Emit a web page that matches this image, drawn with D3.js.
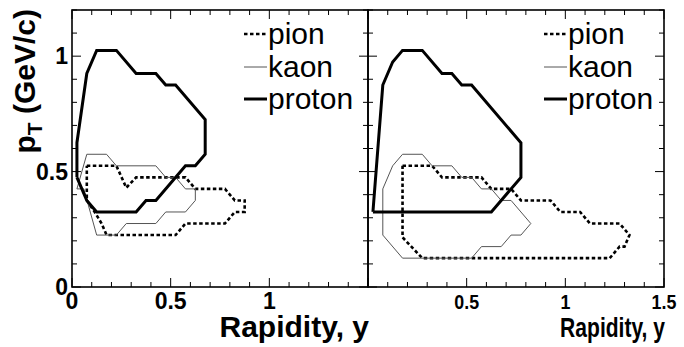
<!DOCTYPE html>
<html><head><meta charset="utf-8">
<script src="https://cdn.jsdelivr.net/npm/d3@7"></script>
<style>html,body{margin:0;padding:0;background:#fff;}svg{display:block;}</style>
</head><body>
<svg id="chart" width="684" height="347"></svg>
<script>
// ---- data: [rapidity y, pT (GeV/c)] contour vertices ----
const leftPion = [[0.075,0.525],[0.225,0.525],[0.275,0.43],[0.325,0.475],[0.575,0.475],[0.625,0.425],[0.775,0.425],[0.825,0.375],[0.875,0.375],[0.875,0.325],[0.825,0.325],[0.775,0.275],[0.575,0.275],[0.525,0.225],[0.175,0.225],[0.15,0.275],[0.115,0.325],[0.075,0.375],[0.075,0.525]];
const leftKaon = [[0.075,0.575],[0.175,0.575],[0.225,0.525],[0.425,0.525],[0.475,0.475],[0.525,0.475],[0.575,0.425],[0.625,0.425],[0.625,0.375],[0.575,0.325],[0.475,0.325],[0.425,0.275],[0.275,0.275],[0.225,0.225],[0.125,0.225],[0.06,0.425],[0.025,0.425],[0.075,0.575]];
const leftProton = [[0.025,0.475],[0.025,0.625],[0.075,0.925],[0.125,1.025],[0.225,1.025],[0.325,0.925],[0.425,0.925],[0.475,0.875],[0.525,0.875],[0.675,0.725],[0.675,0.575],[0.625,0.525],[0.575,0.525],[0.425,0.375],[0.375,0.375],[0.325,0.325],[0.125,0.325],[0.075,0.375],[0.025,0.475]];
const rightPion = [[0.175,0.525],[0.325,0.525],[0.375,0.475],[0.575,0.475],[0.625,0.425],[0.725,0.425],[0.775,0.375],[0.925,0.375],[0.975,0.325],[1.075,0.325],[1.125,0.275],[1.275,0.275],[1.325,0.225],[1.3,0.175],[1.275,0.175],[1.225,0.125],[0.275,0.125],[0.175,0.215],[0.175,0.525]];
const rightKaon = [[0.075,0.425],[0.125,0.525],[0.175,0.575],[0.275,0.575],[0.325,0.525],[0.425,0.525],[0.475,0.475],[0.525,0.475],[0.575,0.425],[0.625,0.425],[0.675,0.375],[0.725,0.375],[0.825,0.275],[0.775,0.225],[0.725,0.225],[0.675,0.175],[0.575,0.175],[0.525,0.125],[0.175,0.125],[0.075,0.225],[0.075,0.425]];
const rightProton = [[0.025,0.325],[0.075,0.875],[0.125,0.975],[0.175,1.025],[0.275,1.025],[0.375,0.925],[0.425,0.925],[0.475,0.875],[0.525,0.875],[0.775,0.625],[0.775,0.475],[0.625,0.325],[0.025,0.325]];
const legendLabels = ["pion","kaon","proton"];
const leftXTickLabels = ["0","0.5","1"];
const rightXTickLabels = ["0.5","1","1.5"];
const yTickLabels = ["0","0.5","1"];
const xDomain = [0,1.5];
const yDomain = [0,1.2];

// ---- layout / styles ----
const svg = d3.select("#chart");
const Y0 = 287, Y1 = 10;
const yScale = d3.scaleLinear().domain(yDomain).range([Y0, Y1]);
const styles = {
  pion:   {stroke:"#000", width:2.6, dash:"3.5,2.5"},
  kaon:   {stroke:"#555", width:1,   dash:null},
  proton: {stroke:"#000", width:3,   dash:null}
};
const font = "'Liberation Sans', Arial, Helvetica, sans-serif";

function panel(x0, x1, series, xLabels, labelSize, labelSx, titleSize, titleSx, legendX) {
  const x = d3.scaleLinear().domain(xDomain).range([x0, x1]);
  const g = svg.append("g");
  const line = d3.line().x(d => x(d[0])).y(d => yScale(d[1]));
  series.forEach(s => {
    const st = styles[s.name];
    g.append("path").datum(s.data).attr("d", line)
      .attr("fill", "none").attr("stroke", st.stroke).attr("stroke-width", st.width)
      .attr("stroke-dasharray", st.dash).attr("stroke-linejoin", "miter");
  });
  const xMinor = d3.range(0, 1.5001, 0.1);
  const yMinor = d3.range(0, 1.2001, 0.1);
  const isMajor = v => Math.abs(v * 2 - Math.round(v * 2)) < 1e-6;
  const tg = g.append("g").attr("stroke", "#000").attr("stroke-width", 1);
  xMinor.forEach(v => {
    const L = isMajor(v) ? 9 : 5;
    tg.append("line").attr("x1", x(v)).attr("x2", x(v)).attr("y1", Y0).attr("y2", Y0 - L);
    tg.append("line").attr("x1", x(v)).attr("x2", x(v)).attr("y1", Y1).attr("y2", Y1 + L);
  });
  yMinor.forEach(v => {
    const L = isMajor(v) ? 9 : 5;
    tg.append("line").attr("x1", x0).attr("x2", x0 + L).attr("y1", yScale(v)).attr("y2", yScale(v));
    tg.append("line").attr("x1", x1).attr("x2", x1 - L).attr("y1", yScale(v)).attr("y2", yScale(v));
  });
  g.append("rect").attr("x", x0).attr("y", Y1).attr("width", x1 - x0).attr("height", Y0 - Y1)
    .attr("fill", "none").attr("stroke", "#000").attr("stroke-width", 1.6);
  g.selectAll("text.xl").data(xLabels).enter().append("text")
    .attr("transform", d => `translate(${x(+d)},309) scale(${labelSx},1)`)
    .attr("text-anchor", "middle").attr("font-family", font).attr("font-weight", "bold")
    .attr("font-size", labelSize).text(d => d);
  g.append("text").attr("transform", `translate(${x1 + 1},337) scale(${titleSx},1)`)
    .attr("text-anchor", "end")
    .attr("font-family", font).attr("font-weight", "bold").attr("font-size", titleSize)
    .text("Rapidity, y");
  const rows = [44, 77, 109];
  legendLabels.forEach((lab, i) => {
    const st = styles[lab];
    const cy = rows[i] - 10;
    g.append("line").attr("x1", legendX).attr("x2", legendX + 23).attr("y1", cy).attr("y2", cy)
      .attr("stroke", st.stroke).attr("stroke-width", st.width).attr("stroke-dasharray", st.dash);
    g.append("text").attr("x", legendX + 24).attr("y", rows[i])
      .attr("font-family", font).attr("font-size", 30).text(lab);
  });
  return x;
}

panel(72, 368, [
  {name:"pion", data:leftPion}, {name:"kaon", data:leftKaon}, {name:"proton", data:leftProton}
], leftXTickLabels, 23, 1, 30, 1, 244);
panel(368, 664, [
  {name:"pion", data:rightPion}, {name:"kaon", data:rightKaon}, {name:"proton", data:rightProton}
], rightXTickLabels, 21, 0.85, 27, 0.78, 544);

svg.selectAll("text.yl").data(yTickLabels).enter().append("text")
  .attr("x", 68).attr("y", d => yScale(+d)).attr("dy", "0.36em")
  .attr("text-anchor", "end").attr("font-family", font).attr("font-weight", "bold")
  .attr("font-size", 23).text(d => d);

const yt = svg.append("text").attr("transform", "translate(35,9) rotate(-90)")
  .attr("text-anchor", "end").attr("font-family", font).attr("font-weight", "bold")
  .attr("font-size", 30);
yt.append("tspan").text("p");
yt.append("tspan").attr("font-size", 21).attr("dy", 7).text("T");
yt.append("tspan").attr("dy", -7).text(" (GeV/c)");
</script>
</body></html>
